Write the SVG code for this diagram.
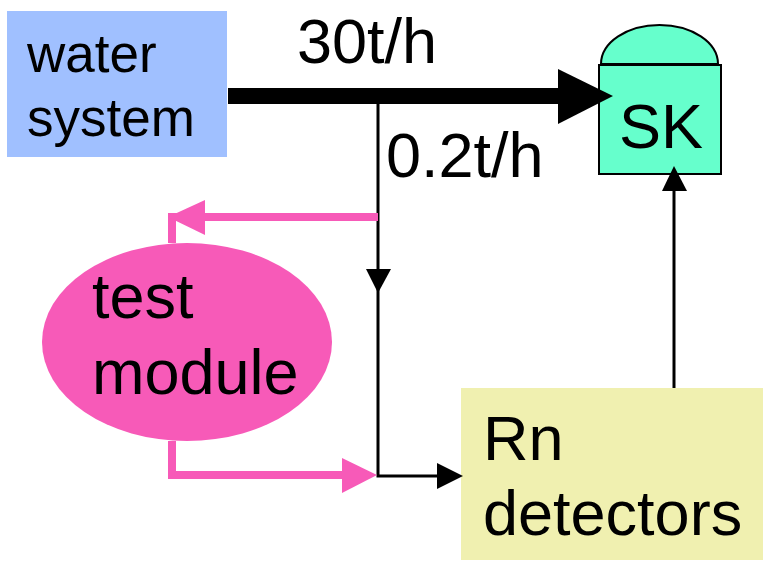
<svg xmlns="http://www.w3.org/2000/svg" width="763" height="563" viewBox="0 0 763 563">
<style>
text{font-family:"Liberation Sans",Arial,sans-serif;fill:#000}
.big{font-size:63px}
.med{font-size:53px}
.blk{stroke:#000;stroke-width:3;fill:none}
.pnk{stroke:#f75ab8;stroke-width:8;fill:none}
</style>
<rect width="763" height="563" fill="#fff"/>
<g id="water">
<rect x="7" y="11" width="220" height="146" fill="#a0c0ff"/>
<text class="med" x="27" y="72">water</text>
<text class="med" x="27" y="136">system</text>
</g>
<g id="sk">
<path d="M601,64 A58.5,39 0 0 1 718,64 Z" fill="#66ffcc" stroke="#000" stroke-width="2"/>
<rect x="599" y="65" width="122" height="109" fill="#66ffcc" stroke="#000" stroke-width="2"/>
<text class="big" x="619" y="148">SK</text>
</g>
<g id="test">
<ellipse cx="187" cy="342" rx="145" ry="99" fill="#f75ab8"/>
<text class="big" x="92" y="318">test</text>
<text class="big" x="92" y="394">module</text>
</g>
<g id="rn">
<rect x="461" y="388" width="302" height="172" fill="#f0f0b0"/>
<text class="big" x="483" y="460">Rn</text>
<text class="big" x="483" y="535">detectors</text>
</g>
<g id="connectors">
<line x1="228" y1="96" x2="560" y2="96" stroke="#000" stroke-width="16"/>
<polygon points="558,69 613,96 558,124" fill="#000"/>
<text class="big" x="297" y="63">30t/h</text>
<polyline class="blk" points="378,104 378,476 440,476"/>
<polygon points="366,269 391,269 378,293" fill="#000"/>
<polygon points="437,463 463,476 437,489" fill="#000"/>
<text class="big" x="386" y="177">0.2t/h</text>
<polyline class="pnk" points="378,217 200,217"/>
<polyline class="pnk" points="172,243 172,217 200,217"/>
<polygon points="205,200 168,217 205,235" fill="#f75ab8"/>
<polyline class="pnk" points="172,441 172,475 345,475"/>
<polygon points="342,458 377,475 342,493" fill="#f75ab8"/>
<line class="blk" x1="674" y1="388" x2="674" y2="188"/>
<polygon points="662,191 674,166 687,191" fill="#000"/>
</g>
</svg>
